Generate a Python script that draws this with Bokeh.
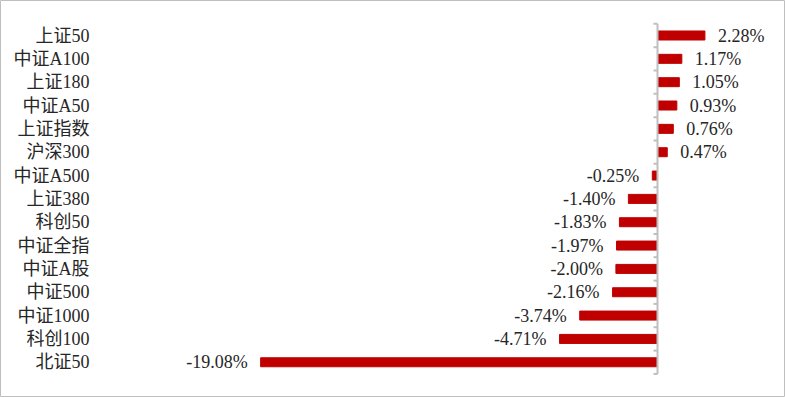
from bokeh.plotting import figure
from bokeh.models import ColumnDataSource, Range1d
from bokeh.core.properties import value
from bokeh.embed import file_html
from bokeh.resources import INLINE

categories = ["上证50", "中证A100", "上证180", "中证A50", "上证指数", "沪深300",
              "中证A500", "上证380", "科创50", "中证全指", "中证A股", "中证500",
              "中证1000", "科创100", "北证50"]
returns = [2.28, 1.17, 1.05, 0.93, 0.76, 0.47, -0.25, -1.40, -1.83, -1.97,
           -2.00, -2.16, -3.74, -4.71, -19.08]

W, H = 785, 397
PX_PER_UNIT = 20.8          # pixels per 1 %
ZERO_PX = 657.0             # x pixel of the zero line inside the figure
ROW_PX = 23.34              # pixels per category row
FIRST_ROW_PX = 35.0         # y pixel of first row centre
CAT_RIGHT_PX = 89.0         # right edge of category labels

x0 = -ZERO_PX / PX_PER_UNIT
x1 = x0 + W / PX_PER_UNIT
ytop = -FIRST_ROW_PX / ROW_PX
ybot = ytop + H / ROW_PX

n = len(categories)
ys = list(range(n))
gap = 13 / PX_PER_UNIT
lbl_x = [v + gap if v >= 0 else v - gap for v in returns]
align = ["left" if v >= 0 else "right" for v in returns]
labels = [f"{v:.2f}%" for v in returns]

src = ColumnDataSource(dict(cat=categories, y=ys, v=returns, lx=lbl_x,
                            al=align, lab=labels,
                            catx=[x0 + CAT_RIGHT_PX / PX_PER_UNIT] * n))

p = figure(width=W, height=H, x_range=Range1d(x0, x1), y_range=Range1d(ybot, ytop),
           x_axis_type=None, y_axis_type=None, output_backend="svg",
           toolbar_location=None, min_border=0)
p.background_fill_color = "white"
p.border_fill_color = "white"
p.outline_line_color = "#bfbfbf"
p.outline_line_width = 1

p.hbar(y="y", left=0, right="v", height=0.386, color="#C00000", source=src)

# zero axis line and boundary ticks
p.segment(x0=[0], y0=[-0.5], x1=[0], y1=[n - 0.5], line_color="#bfbfbf", line_width=2)
tb = [i - 0.5 for i in range(n + 1)]
p.segment(x0=[-4 / PX_PER_UNIT] * len(tb), y0=tb, x1=[0] * len(tb), y1=tb,
          line_color="#bfbfbf", line_width=2)

font = value("Liberation Serif, Noto Sans CJK SC")
p.text(x="catx", y="y", text="cat", source=src, text_align="right",
       text_baseline="middle", text_font=font, text_font_size="18px",
       text_color="#262626")
p.text(x="lx", y="y", text="lab", source=src, text_align="al",
       text_baseline="middle", text_font=font, text_font_size="18px",
       text_color="#262626")

open("out.html", "w").write(file_html(p, INLINE))
